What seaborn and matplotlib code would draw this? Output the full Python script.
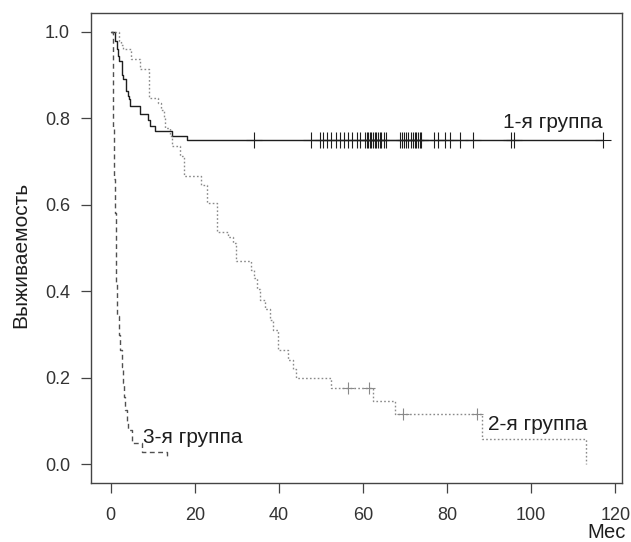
import numpy as np
import pandas as pd
import matplotlib
matplotlib.use("Agg")
import matplotlib.pyplot as plt
import seaborn as sns

# Kaplan-Meier steps (months, survival)
g1_time = [0, 1.0, 1.4, 1.66, 2.06, 2.61, 3.0, 3.56, 4.04, 4.43, 4.59, 6.97, 8.79,
           9.34, 10.5, 14.5, 18.2, 117.0]
g1_surv = [1.0, 0.98, 0.96, 0.944, 0.932, 0.901, 0.890, 0.863, 0.851, 0.844, 0.829,
           0.810, 0.797, 0.782, 0.770, 0.760, 0.749, 0.749]
g1_cens = [34.0, 47.7, 49.7, 50.5, 51.5, 52.5, 53.7, 54.5, 55.6, 56.4, 57.5, 58.6,
           59.2, 60.6, 61.0, 61.3, 61.6, 61.9, 62.4, 62.8, 63.2, 63.6, 64.0, 64.4,
           64.9, 65.5, 68.7, 69.3, 69.7, 70.3, 70.8, 71.5, 71.9, 72.3, 72.7, 73.1,
           73.5, 73.9, 77.0, 77.8, 79.4, 80.6, 83.0, 86.1, 95.2, 96.0, 117.0]

g2_time = [0, 2.0, 2.5, 3.0, 4.9, 6.9, 9.1, 11.3, 12.0, 12.7, 13.0, 14.1, 14.6, 16.4,
           17.5, 21.6, 22.8, 25.3, 27.9, 29.1, 29.9, 33.3, 34.0, 34.8, 35.5, 36.6,
           37.8, 38.6, 39.8, 42.1, 43.3, 44.1, 52.4, 62.5, 67.7, 88.3, 113.0]
g2_surv = [1.0, 0.98, 0.97, 0.961, 0.937, 0.914, 0.847, 0.836, 0.820, 0.801, 0.778,
           0.758, 0.735, 0.714, 0.667, 0.645, 0.604, 0.538, 0.525, 0.512, 0.469,
           0.45, 0.43, 0.405, 0.380, 0.36, 0.334, 0.311, 0.265, 0.24, 0.22, 0.199,
           0.176, 0.147, 0.116, 0.059, 0.0]
g2_cens = [56.4, 61.4, 69.5, 87.1]

g3_time = [0, 0.44, 0.55, 0.67, 0.8, 0.91, 1.07, 1.2, 1.35, 1.47, 1.9, 2.26, 2.6,
           2.9, 3.2, 3.45, 3.8, 4.24, 5.03, 7.4, 13.3, 14.1]
g3_surv = [1.0, 0.93, 0.85, 0.78, 0.72, 0.66, 0.58, 0.50, 0.42, 0.342, 0.30, 0.265,
           0.225, 0.188, 0.155, 0.126, 0.10, 0.080, 0.049, 0.029, 0.018, 0.018]

labels = ["1-я группа", "2-я группа", "3-я группа"]
xticks = [0, 20, 40, 60, 80, 100, 120]
yticks = [0.0, 0.2, 0.4, 0.6, 0.8, 1.0]

sns.set_style("ticks")
plt.rcParams["font.family"] = ["Liberation Sans", "DejaVu Sans"]

fig = plt.figure(figsize=(6.31, 5.42), dpi=100)
ax = fig.add_axes([0.1442, 0.1092, 0.8420, 0.8663])

def surv_at(times, surv, t):
    idx = np.searchsorted(times, t, side="right") - 1
    return np.asarray(surv)[idx]

groups = [
    (g1_time, g1_surv, g1_cens, "#1e1e1e", "-", 11),
    (g2_time, g2_surv, g2_cens, "#8a8a8a", (0, (1.2, 1.6)), 8),
    (g3_time, g3_surv, [], "#505050", (0, (3.5, 2.5)), 8),
]
for (tm, sv, cens, col, ls, ms), lab in zip(groups, labels):
    df = pd.DataFrame({"t": tm, "s": sv})
    sns.lineplot(data=df, x="t", y="s", ax=ax, color=col, linestyle=ls,
                 linewidth=1.0, drawstyle="steps-post", estimator=None, sort=False)
    if cens:
        ax.plot(cens, surv_at(tm, sv, cens), ls="none", marker="+", ms=ms,
                mew=0.8, color=col)

ax.text(93.3, 0.778, labels[0], fontsize=15, color="#1e1e1e", va="baseline")
ax.text(89.7, 0.080, labels[1], fontsize=15, color="#1e1e1e", va="baseline")
ax.text(7.7, 0.050, labels[2], fontsize=15, color="#1e1e1e", va="baseline")

ax.set_xlim(-4.68, 121.68)
ax.set_ylim(-0.043, 1.043)
ax.set_xticks(xticks)
ax.set_yticks(yticks)
ax.set_yticklabels([f"{v:.1f}" for v in yticks])
ax.set_xlabel("")
ax.set_ylabel("")
for sp in ax.spines.values():
    sp.set_visible(True)
    sp.set_color("#444444")
    sp.set_linewidth(1.0)
ax.tick_params(axis="both", direction="out", length=7.2, width=0.9,
               colors="#444444", labelsize=13, labelcolor="#333333")
ax.tick_params(axis="x", pad=10)
ax.tick_params(axis="y", pad=8)

fig.text(20.5 / 631, 1 - 255 / 542, "Выживаемость", rotation=90, fontsize=15,
         ha="center", va="center", color="#1e1e1e")
fig.text(607 / 631, 1 - 532 / 542, "Мес", fontsize=14.5, ha="center",
         va="center", color="#1e1e1e")

fig.savefig("out.png", dpi=100)
